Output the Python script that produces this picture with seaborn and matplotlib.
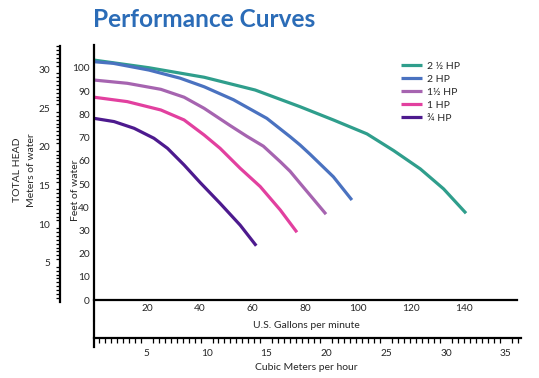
import pandas as pd
import seaborn as sns
import matplotlib.pyplot as plt
from matplotlib.ticker import MultipleLocator

# pump curves: U.S. gallons per minute vs feet of head
gpm_25 = [0, 20.8, 41.7, 61, 78, 90.6, 103.3, 113.4, 123.5, 132.3, 140.8]
ft_25 = [103.4, 100.1, 96.0, 90.5, 83.3, 77.6, 71.6, 64.4, 56.5, 47.9, 37.4]

gpm_20 = [0, 7.3, 20.8, 32.6, 41.7, 52.8, 65.4, 74.2, 78, 81.8, 90.6, 97.6]
ft_20 = [102.7, 102.0, 99.1, 95.6, 91.9, 86.3, 78.3, 70.4, 66.8, 62.8, 53.1, 43.1]

gpm_15 = [0, 12.6, 25.3, 34.1, 41.7, 51.5, 57.8, 64.1, 70.5, 74.2, 78, 83.1, 87.8]
ft_15 = [94.8, 93.4, 90.8, 87.4, 82.6, 75.2, 70.6, 66.3, 59.6, 55.5, 50.3, 43.4, 37.0]

gpm_10 = [0, 12.6, 25.3, 34.1, 41.7, 47.7, 55.3, 62.9, 70.5, 76.8]
ft_10 = [87.4, 85.5, 81.9, 77.6, 71.1, 65.4, 56.8, 48.9, 38.8, 29.2]

gpm_075 = [0, 7.6, 15.2, 22.7, 27.8, 34.1, 40.2, 47.7, 55.3, 61.4]
ft_075 = [78.3, 76.9, 74.0, 69.7, 65.4, 58.2, 50.6, 41.7, 32.3, 23.4]

labels = ['2 ½ HP', '2 HP', '1½ HP', '1 HP', '¾ HP']
colors = ['#2f9e8c', '#4a72c0', '#a664b0', '#e2409f', '#4d1a8e']

gpm_ticks = [20, 40, 60, 80, 100, 120, 140]
ft_ticks = [0, 10, 20, 30, 40, 50, 60, 70, 80, 90, 100]
m_ticks = [5, 10, 15, 20, 25, 30]
m3_ticks = [5, 10, 15, 20, 25, 30, 35]

frames = []
for lab, g, f in zip(labels, [gpm_25, gpm_20, gpm_15, gpm_10, gpm_075],
                     [ft_25, ft_20, ft_15, ft_10, ft_075]):
    frames.append(pd.DataFrame({'gpm': g, 'ft': f, 'pump': lab}))
df = pd.concat(frames, ignore_index=True)

sns.set_style('white')
plt.rcParams['font.family'] = ['Lato', 'DejaVu Sans']

W, H = 539, 378
fig = plt.figure(figsize=(W / 100, H / 100), dpi=100)


def fx(px):
    return px / W


def fy(py):
    return 1 - py / H


# main chart (feet / gallons)
ax = fig.add_axes([fx(94), fy(320), fx(517.3) - fx(94), fy(45) - fy(320)])
sns.lineplot(data=df, x='gpm', y='ft', hue='pump', hue_order=labels,
             palette=colors, linewidth=2.3, sort=False, ax=ax,
             solid_joinstyle='round', solid_capstyle='butt')
ax.set_xlim(0, 160.2)
ax.set_ylim(-8.6, 109.9)
ax.spines['top'].set_visible(False)
ax.spines['right'].set_visible(False)
ax.spines['bottom'].set_position(('data', 0))
for s in ['left', 'bottom']:
    ax.spines[s].set_linewidth(1.6)
    ax.spines[s].set_color('black')
ax.set_xticks(gpm_ticks + [160.2])
ax.set_xticklabels([str(t) for t in gpm_ticks] + [''])
ax.set_yticks(ft_ticks)
ax.set_yticklabels([str(t) for t in ft_ticks])
ax.tick_params(axis='both', direction='in', length=7.2, width=1.5,
               labelsize=7.3, pad=3, color='black')
ax.set_xlabel('')
ax.set_ylabel('')

handles, labs = ax.get_legend_handles_labels()
ax.legend(handles, labs, loc='upper left', bbox_to_anchor=(fx(401), fy(61.5)),
          bbox_transform=fig.transFigure, frameon=False, fontsize=7.5,
          handlelength=2.0, handletextpad=0.5, labelspacing=0.35,
          borderpad=0, borderaxespad=0)

# meters of water axis
axm = fig.add_axes([fx(60), fy(301.7), 0.001, fy(46.2) - fy(301.7)])
axm.set_ylim(0, 33)
axm.set_xticks([])
for s in ['top', 'right', 'bottom']:
    axm.spines[s].set_visible(False)
axm.spines['left'].set_linewidth(1.6)
axm.spines['left'].set_color('black')
axm.set_yticks([0] + m_ticks)
axm.set_yticklabels([''] + [str(t) for t in m_ticks])
axm.yaxis.set_minor_locator(MultipleLocator(0.5))
axm.tick_params(axis='y', which='major', direction='out', length=5, width=1.4,
                labelsize=7.3, pad=2, color='black')
axm.tick_params(axis='y', which='minor', direction='out', length=3, width=0.9,
                color='black', left=True)
axm.patch.set_visible(False)

# cubic meters per hour axis
axc = fig.add_axes([fx(94), fy(346.7), fx(521) - fx(94), fy(321.7) - fy(346.7)])
axc.set_xlim(0.6, 36.27)
axc.set_ylim(0, 25)
axc.set_yticks([])
for s in ['top', 'right']:
    axc.spines[s].set_visible(False)
axc.spines['bottom'].set_position(('data', 9))
for s in ['left', 'bottom']:
    axc.spines[s].set_linewidth(1.6)
    axc.spines[s].set_color('black')
axc.set_xticks(m3_ticks)
axc.set_xticklabels([str(t) for t in m3_ticks])
axc.xaxis.set_minor_locator(MultipleLocator(0.5))
axc.tick_params(axis='x', which='major', direction='out', length=5.8, width=1.5,
                labelsize=7.3, pad=2, color='black')
axc.tick_params(axis='x', which='minor', direction='out', length=3.6, width=0.9,
                color='black', bottom=True)
axc.patch.set_visible(False)

# titles and axis names
fig.text(fx(93), fy(27.3), 'Performance Curves', fontsize=17.6, fontweight='bold',
         color='#2b6cb7', ha='left', va='baseline')
fig.text(fx(18), fy(170), 'TOTAL HEAD', rotation=90, fontsize=7.5,
         ha='center', va='center')
fig.text(fx(31), fy(170), 'Meters of water', rotation=90, fontsize=7.5,
         ha='center', va='center')
fig.text(fx(75), fy(190), 'Feet of water', rotation=90, fontsize=7.5,
         ha='center', va='center')
fig.text(fx(306.7), fy(326), 'U.S. Gallons per minute', fontsize=7.5,
         ha='center', va='center')
fig.text(fx(306), fy(367), 'Cubic Meters per hour', fontsize=7.5,
         ha='center', va='center')

fig.savefig('out.png', dpi=100)
